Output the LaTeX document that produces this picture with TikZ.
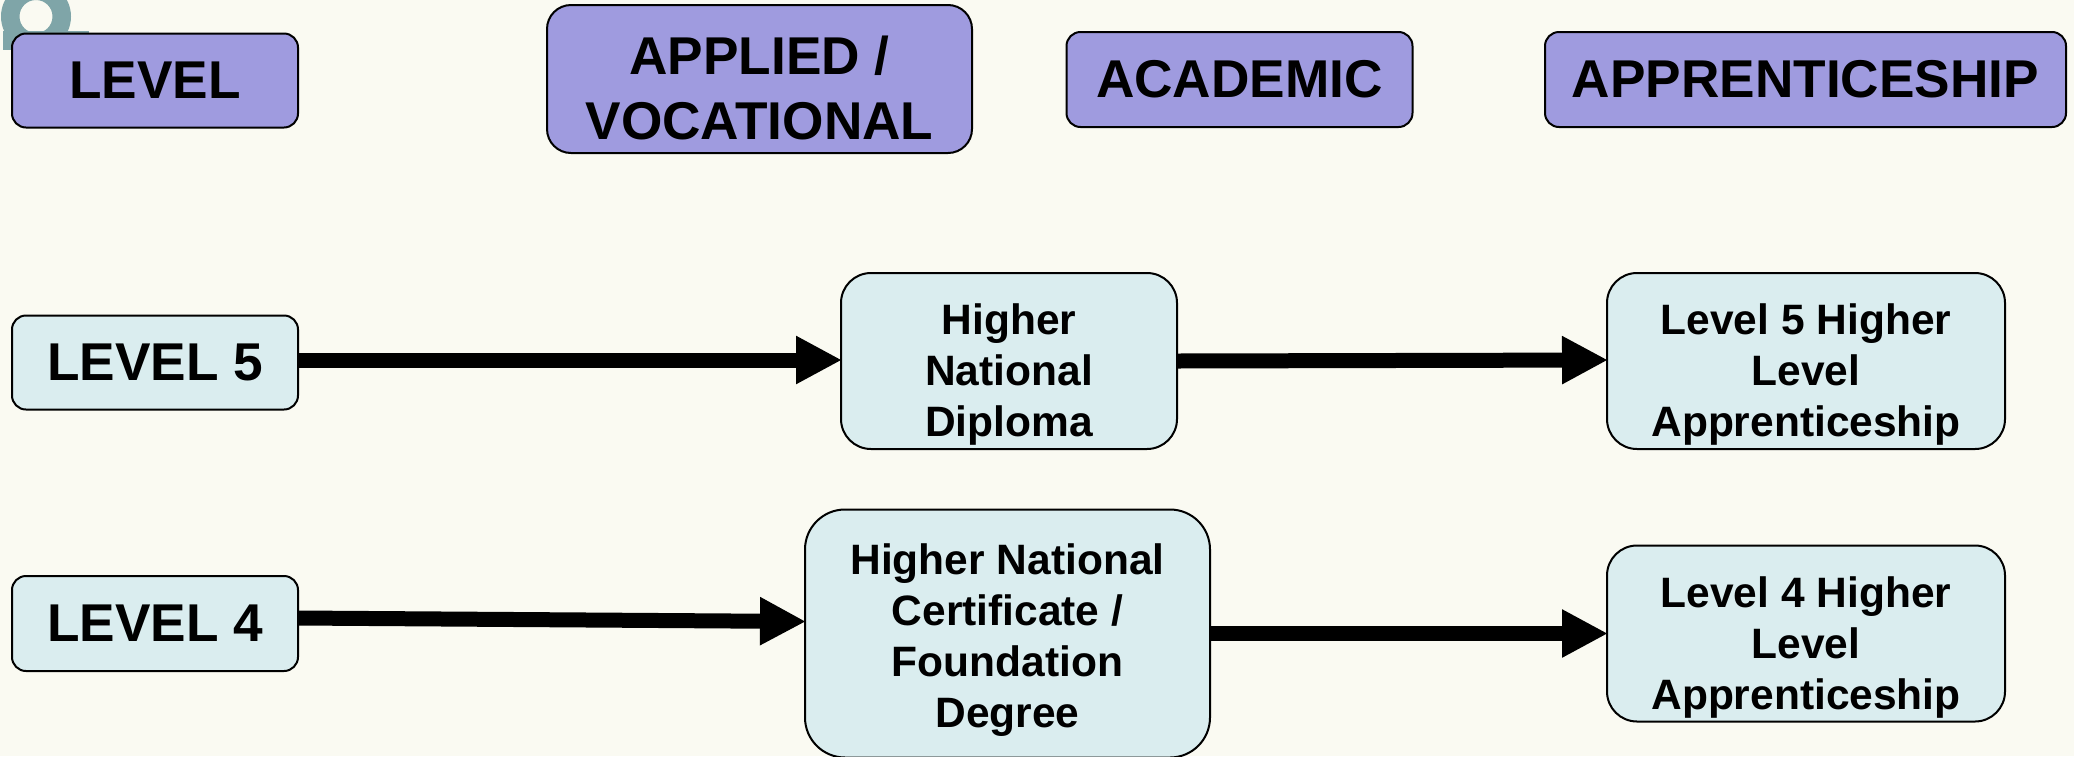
\documentclass[tikz,border=0pt]{standalone}
\usepackage{fontspec}
\setmainfont{Liberation Sans}
\usetikzlibrary{arrows.meta}
\definecolor{pagebg}{HTML}{FAFAF2}
\definecolor{hdrfill}{HTML}{9F9BDF}
\definecolor{cellfill}{HTML}{DAEDEF}
\definecolor{logoteal}{HTML}{7FA5A8}
\newcommand\topgap[1]{\rule{0pt}{#1pt}}
\tikzset{
  basebox/.style={draw=black,line width=2pt,outer sep=0pt,inner sep=0pt,align=center,font=\bfseries},
  hdr/.style={basebox,fill=hdrfill,rounded corners=14pt},
  hdrtext/.style={font=\fontsize{53.2}{65}\selectfont\bfseries},
  lvl/.style={basebox,fill=cellfill,rounded corners=14pt,font=\fontsize{53.2}{65}\selectfont\bfseries},
  cell/.style={basebox,fill=cellfill,rounded corners=30pt,font=\fontsize{42.5}{51}\selectfont\bfseries},
  flow/.style={line width=15pt,shorten >=-1pt,-{Triangle[length=46pt,width=45pt]},black},
  sz/.style 2 args={minimum width=#1pt,minimum height=#2pt}
}
\begin{document}
\begin{tikzpicture}[x=1pt,y=-1pt]
\fill[pagebg] (0,0) rectangle (2074,756);
\useasboundingbox (0,0) rectangle (2074,756);
% logo fragment
\begin{scope}
\clip (0,0) rectangle (2074,756);
\fill[logoteal,even odd rule] (36,16.5) circle[radius=35] (36,16.5) circle[radius=16.5];
\fill[logoteal] (3,30.5) rectangle (89,50);
\end{scope}
% headers
\node[hdr,hdrtext,sz={286}{94}] (hlevel) at (155,80.5) {LEVEL};
\node[hdr,hdrtext,sz={425}{148},rounded corners=24pt] (happlied) at (759.5,79) {\topgap{56}APPLIED /\\VOCATIONAL};
\node[hdr,hdrtext,sz={346}{95}] (hacad) at (1239.5,79.5) {ACADEMIC};
\node[hdr,hdrtext,sz={521}{95}] (happr) at (1805.5,79.5) {APPRENTICESHIP};
% rows
\node[lvl,sz={286}{94}] (l5) at (155,362.5) {LEVEL 5};
\node[lvl,sz={286}{95}] (l4) at (155,623.5) {LEVEL 4};
\node[cell,sz={336}{176}] (hnd) at (1009,361) {\topgap{58}Higher\\National\\Diploma};
\node[cell,sz={398}{176}] (l5a) at (1806,361) {\topgap{58}Level 5 Higher\\Level\\Apprenticeship};
\node[cell,sz={405}{248},rounded corners=40pt] (hnc) at (1007.5,633.5) {\topgap{43}Higher National\\Certificate /\\Foundation\\Degree};
\node[cell,sz={398}{176}] (l4a) at (1806,633.5) {\topgap{58}Level 4 Higher\\Level\\Apprenticeship};
% connectors
\draw[flow] ([yshift=2.5pt]l5.east) -- ([yshift=1pt]hnd.west);
\draw[flow] (hnd.east) -- ([yshift=1pt]l5a.west);
\draw[flow] ([yshift=5.5pt]l4.east) -- ([yshift=12pt]hnc.west);
\draw[flow] (hnc.east) -- (l4a.west);
\end{tikzpicture}
\end{document}
